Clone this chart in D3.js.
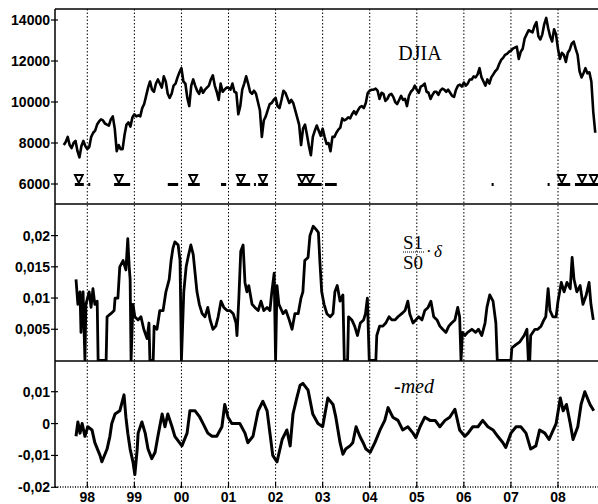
<!DOCTYPE html>
<html><head><meta charset="utf-8">
<script src="https://cdn.jsdelivr.net/npm/d3@7"></script>
<style>body{margin:0;background:#fff}</style>
</head><body><svg id="c" width="598" height="504"></svg>
<script>
const yearTicks = [1998,1999,2000,2001,2002,2003,2004,2005,2006,2007,2008];
const yearLabels = ["98","99","00","01","02","03","04","05","06","07","08"];
const djiaTicks = [6000,8000,10000,12000,14000];
const djiaTickLabels = ["6000","8000","10000","12000","14000"];
const ratioTicks = [0.005,0.01,0.015,0.02];
const ratioTickLabels = ["0,005","0,01","0,015","0,02"];
const medTicks = [-0.02,-0.01,0,0.01];
const medTickLabels = ["-0,02","-0,01","0","0,01"];

// DJIA, semi-monthly from mid 1997
const djiaStart = 1997.5, djiaStep = 1/24;
const djia = [
 7900,8050,8300,7900,7750,8000,8100,7600,7300,7850,8100,7850,
 7700,7800,8300,8500,8600,8900,9050,9150,9100,8950,8900,8850,9150,9300,8700,7600,7900,7700,7700,8400,8900,9000,8800,9250,
 9400,9300,9350,9300,9700,9900,10300,10700,11000,10600,10500,10900,11100,10900,10700,11250,11000,10400,10200,10400,10800,10900,11200,11450,
 11650,11000,10900,10200,9800,10800,11100,10800,10550,10400,10700,10450,10600,10700,10800,11100,11300,10800,10500,10100,10900,10500,10600,10700,
 10700,10600,10900,10500,10450,9400,9800,10600,10900,11250,10900,10500,10400,10550,10400,10000,9600,8300,9100,9300,9600,9900,9950,10100,
 10200,9800,9700,10100,10550,10450,10200,9950,10100,9950,9600,9250,8900,7900,8700,8900,8400,7850,7400,8300,8600,8850,8600,8350,
 8700,8300,7950,8000,7600,8300,8300,8500,8650,8750,9200,9100,9150,9250,9200,9400,9550,9400,9600,9750,9800,9700,9950,10450,
 10550,10600,10600,10650,10550,10150,10450,10400,10050,10150,10350,10400,10250,10000,9900,10100,10300,10100,10150,9800,10300,10500,10600,10800,
 10600,10450,10750,10800,10900,10500,10450,10150,10350,10500,10500,10350,10550,10650,10600,10500,10600,10450,10300,10250,10600,10800,10850,10750,
 10950,10800,10900,11100,11100,11250,11200,11350,11650,11200,11000,10800,11100,10900,11200,11350,11500,11600,11850,12050,12150,12300,12350,12450,
 12500,12600,12650,12700,12100,12450,12600,13100,13300,13500,13450,13400,13700,13900,13200,13050,13300,13800,14100,13600,13200,12950,13550,13300,
 12600,12100,12400,12300,11950,12400,12550,12850,12950,12600,12300,11500,11200,11400,11650,11400,11450,11000,9500,8500
];

const ratioYears = [1997.76,1997.80,1997.845,1997.866,1997.91,1997.95,1997.97,1998.04,1998.08,1998.12,1998.16,1998.21,1998.23,1998.40,1998.42,1998.50,1998.57,1998.59,1998.65,1998.69,1998.76,1998.82,1998.86,1998.89,1998.91,1998.93,1998.97,1999.01,1999.08,1999.14,1999.20,1999.27,1999.31,1999.33,1999.40,1999.42,1999.48,1999.54,1999.61,1999.67,1999.74,1999.78,1999.82,1999.86,1999.93,1999.97,2000.00,2000.05,2000.10,2000.14,2000.20,2000.25,2000.29,2000.33,2000.38,2000.44,2000.50,2000.56,2000.61,2000.67,2000.73,2000.78,2000.84,2000.90,2000.97,2001.03,2001.10,2001.16,2001.18,2001.22,2001.26,2001.31,2001.35,2001.39,2001.43,2001.50,2001.56,2001.63,2001.69,2001.75,2001.82,2001.88,2001.92,2001.97,2002.00,2002.03,2002.07,2002.16,2002.22,2002.29,2002.35,2002.41,2002.48,2002.54,2002.58,2002.62,2002.69,2002.73,2002.80,2002.86,2002.91,2002.94,2002.98,2003.03,2003.09,2003.16,2003.22,2003.26,2003.31,2003.37,2003.43,2003.46,2003.53,2003.55,2003.62,2003.68,2003.74,2003.80,2003.87,2003.91,2003.95,2003.99,2004.13,2004.15,2004.21,2004.28,2004.34,2004.41,2004.47,2004.54,2004.60,2004.68,2004.75,2004.81,2004.85,2004.92,2004.98,2005.04,2005.11,2005.17,2005.24,2005.30,2005.36,2005.43,2005.49,2005.55,2005.62,2005.68,2005.74,2005.81,2005.87,2005.91,2005.94,2005.97,2006.02,2006.08,2006.17,2006.25,2006.31,2006.38,2006.45,2006.49,2006.55,2006.62,2006.68,2006.71,2007.00,2007.02,2007.10,2007.19,2007.28,2007.34,2007.37,2007.40,2007.42,2007.51,2007.57,2007.64,2007.70,2007.74,2007.79,2007.83,2007.89,2007.96,2008.00,2008.07,2008.13,2008.19,2008.26,2008.30,2008.34,2008.40,2008.47,2008.53,2008.60,2008.66,2008.70,2008.75];
const ratioValues = [0.013,0.009,0.011,0.0045,0.011,0,0.009,0.011,0.0085,0.0115,0.009,0.0095,0,0,0.007,0.0075,0.008,0.01,0.01,0.015,0.016,0.0145,0.0195,0.015,0.013,0,0.009,0.007,0.0065,0.007,0.005,0.0035,0.006,0,0,0.0055,0.005,0.008,0.008,0.011,0.013,0.016,0.018,0.019,0.0185,0.016,0,0.011,0.015,0.0165,0.0185,0.017,0.014,0.011,0.009,0.0075,0.007,0.0085,0.0065,0.005,0.0055,0.007,0.0095,0.0085,0.008,0.008,0.0075,0.006,0.004,0.01,0.0175,0.0185,0.0125,0.011,0.012,0.009,0.0085,0.008,0.0095,0.008,0.0085,0.008,0.011,0.014,0,0.012,0.009,0.0075,0.008,0.0065,0.005,0.0075,0.0075,0.01,0.011,0.016,0.0165,0.02,0.0215,0.021,0.0205,0.016,0.011,0.009,0.0075,0.007,0.0075,0.011,0.012,0.0095,0.0105,0,0,0.007,0.0065,0.0055,0.004,0.006,0.0065,0.0075,0.01,0,0,0.004,0.0055,0.0055,0.006,0.007,0.0065,0.0065,0.007,0.0075,0.008,0.0095,0.0075,0.006,0.0065,0.007,0.0065,0.008,0.0085,0.0095,0.007,0.0065,0.0055,0.005,0.0045,0.0055,0.006,0.0065,0.0085,0.007,0,0.0045,0.004,0.0045,0.005,0.0045,0.005,0.004,0.006,0.0085,0.0105,0.0095,0.006,0,0,0.002,0.0025,0.003,0.004,0.005,0,0,0.004,0.005,0.005,0.0055,0.0065,0.007,0.0115,0.008,0.007,0.007,0.0095,0.0125,0.011,0.0125,0.0115,0.0165,0.013,0.011,0.012,0.009,0.0105,0.0125,0.009,0.0065];

const medYears = [1997.76,1997.80,1997.845,1997.89,1997.95,1998.01,1998.10,1998.16,1998.27,1998.31,1998.42,1998.48,1998.52,1998.59,1998.69,1998.78,1998.82,1998.86,1998.91,1998.97,1999.01,1999.06,1999.08,1999.16,1999.23,1999.29,1999.37,1999.44,1999.50,1999.59,1999.65,1999.71,1999.80,1999.86,2000.01,2000.12,2000.18,2000.29,2000.39,2000.46,2000.56,2000.65,2000.75,2000.86,2000.92,2000.99,2001.07,2001.14,2001.24,2001.35,2001.41,2001.52,2001.63,2001.73,2001.82,2001.88,2001.94,2002.03,2002.14,2002.24,2002.31,2002.37,2002.45,2002.52,2002.58,2002.69,2002.79,2002.90,2003.00,2003.11,2003.22,2003.28,2003.37,2003.43,2003.49,2003.58,2003.64,2003.71,2003.79,2003.86,2003.92,2004.01,2004.11,2004.22,2004.32,2004.39,2004.49,2004.60,2004.70,2004.81,2004.92,2004.98,2005.07,2005.17,2005.28,2005.39,2005.49,2005.60,2005.70,2005.81,2005.91,2006.02,2006.09,2006.19,2006.30,2006.40,2006.51,2006.62,2006.72,2006.83,2006.89,2007.00,2007.11,2007.21,2007.32,2007.42,2007.53,2007.61,2007.72,2007.81,2007.90,2007.96,2008.05,2008.11,2008.18,2008.26,2008.32,2008.42,2008.49,2008.57,2008.68,2008.76];
const medValues = [-0.004,0.0005,-0.003,0,-0.004,-0.001,-0.002,-0.006,-0.010,-0.012,-0.008,-0.004,0,0.003,0.004,0.009,0.002,-0.003,-0.008,-0.012,-0.016,-0.008,-0.003,0.0005,-0.003,-0.008,-0.011,-0.009,-0.004,0.003,-0.001,0.003,-0.001,-0.004,-0.007,-0.003,0.004,0.004,0.002,0,-0.003,-0.004,-0.004,-0.001,0.006,0.002,0,0,0,-0.003,-0.006,-0.004,0.004,0.007,0.004,-0.003,-0.010,-0.012,-0.005,-0.002,-0.007,0.003,0.008,0.012,0.0126,0.0105,0.003,0,-0.001,0.008,0.006,0.002,-0.006,-0.0096,-0.008,-0.007,-0.006,-0.001,-0.004,-0.006,-0.008,-0.009,-0.006,-0.002,0.001,0.005,0.002,0.001,-0.002,-0.001,-0.003,-0.0044,-0.001,0.002,0.001,0.001,-0.001,0.001,0.002,0.0045,-0.002,-0.004,-0.003,-0.001,-0.001,0.001,-0.001,-0.002,-0.004,-0.006,-0.0075,-0.003,-0.001,-0.001,-0.003,-0.008,-0.007,-0.002,-0.003,-0.005,-0.002,0,0.008,0.004,0.006,0,-0.005,-0.001,0.006,0.010,0.006,0.004];

const markerYears = [1997.82,1998.67,2000.25,2001.26,2001.73,2002.56,2002.73,2008.08,2008.51,2008.76];
const barStarts = [1998.02,1998.57,1999.71,2000.14,2000.84,2001.18,2001.54,2001.63,2002.48,2003.05,2006.59,2007.78,2008.00,2008.36];
const barEnds   = [1998.06,1998.91,1999.93,2000.39,2000.95,2001.46,2001.58,2001.84,2002.98,2003.30,2006.62,2007.81,2008.26,2008.85];

const svg = d3.select("#c");
const L = 55, R = 598;
const panels = {top:[9,204], mid:[204,361], bot:[361,487]};

const x = d3.scaleLinear().domain([1998,2008]).range([87.3,558]);
const yTop = d3.scaleLinear().domain([6000,14000]).range([184,20]);
const yMid = d3.scaleLinear().domain([0,0.02]).range([360.5,235.6]);
const yBot = d3.scaleLinear().domain([-0.02,0.01]).range([487.3,391.7]);

const defs = svg.append("defs");
Object.entries(panels).forEach(([k,[a,b]])=>{
  defs.append("clipPath").attr("id","clip-"+k).append("rect")
    .attr("x",L).attr("y",a).attr("width",R-L).attr("height",b-a);
});

// year gridlines
svg.append("g").selectAll("line").data(yearTicks).join("line")
  .attr("x1",d=>x(d)).attr("x2",d=>x(d)).attr("y1",9).attr("y2",487)
  .attr("stroke","#000").attr("stroke-width",1).attr("stroke-dasharray","1.5,2");

// series
const djiaData = djia.map((v,i)=>[djiaStart+i*djiaStep, v]);
svg.append("path").datum(djiaData).attr("clip-path","url(#clip-top)")
  .attr("d", d3.line().x(d=>x(d[0])).y(d=>yTop(d[1])))
  .attr("fill","none").attr("stroke","#000").attr("stroke-width",2.6).attr("stroke-linejoin","round");

const ratioData = ratioYears.map((t,i)=>[t, ratioValues[i]]);
svg.append("path").datum(ratioData).attr("clip-path","url(#clip-mid)")
  .attr("d", d3.line().x(d=>x(d[0])).y(d=>yMid(d[1])))
  .attr("fill","none").attr("stroke","#000").attr("stroke-width",2.8).attr("stroke-linejoin","round");

const medData = medYears.map((t,i)=>[t, medValues[i]]);
svg.append("path").datum(medData).attr("clip-path","url(#clip-bot)")
  .attr("d", d3.line().x(d=>x(d[0])).y(d=>yBot(d[1])))
  .attr("fill","none").attr("stroke","#000").attr("stroke-width",3).attr("stroke-linejoin","round");

// markers
const mY = yTop(6000);
svg.append("g").selectAll("rect").data(barStarts).join("rect")
  .attr("x",(d)=>x(d)).attr("width",(d,i)=>Math.max(2,x(barEnds[i])-x(d)))
  .attr("y",mY-1).attr("height",3).attr("fill","#000");
svg.append("g").selectAll("path").data(markerYears).join("path")
  .attr("d",d=>{const cx=x(d); return `M${cx-4},${mY-9}L${cx+4},${mY-9}L${cx},${mY-1}Z`;})
  .attr("fill","#fff").attr("stroke","#000").attr("stroke-width",1.8);
svg.append("g").selectAll("rect").data(markerYears).join("rect")
  .attr("x",d=>x(d)-4).attr("width",9).attr("y",mY-1).attr("height",3).attr("fill","#000");

// frame
const frame = svg.append("g").attr("stroke","#000");
frame.append("line").attr("x1",L).attr("x2",R).attr("y1",9).attr("y2",9).attr("stroke-width",1.5);
frame.append("line").attr("x1",L).attr("x2",R).attr("y1",204).attr("y2",204).attr("stroke-width",1.5);
frame.append("line").attr("x1",L).attr("x2",R).attr("y1",361).attr("y2",361).attr("stroke-width",1.5);
frame.append("line").attr("x1",L).attr("x2",L).attr("y1",9).attr("y2",487).attr("stroke-width",1.5);
frame.append("line").attr("x1",L).attr("x2",R).attr("y1",487).attr("y2",487).attr("stroke-width",1.5).attr("stroke-dasharray","1,1.5");

// year ticks on bottom
svg.append("g").selectAll("line").data(yearTicks).join("line")
  .attr("x1",d=>x(d)).attr("x2",d=>x(d)).attr("y1",482).attr("y2",488)
  .attr("stroke","#000").attr("stroke-width",1.2);

// y axes
function yAxis(scale, ticks, labels, minorStep, range){
  const g = svg.append("g");
  const minor = d3.range(Math.ceil((scale.invert(range[1]))/minorStep)*minorStep, scale.invert(range[0]), minorStep);
  g.selectAll("line.mn").data(minor).join("line")
    .attr("x1",L).attr("x2",L+2).attr("y1",d=>scale(d)).attr("y2",d=>scale(d))
    .attr("stroke","#000").attr("stroke-width",1);
  g.selectAll("line.mj").data(ticks).join("line")
    .attr("x1",L-4).attr("x2",L+3).attr("y1",d=>scale(d)).attr("y2",d=>scale(d))
    .attr("stroke","#000").attr("stroke-width",1.2);
  g.selectAll("text").data(ticks).join("text")
    .attr("x",L-5).attr("y",d=>scale(d)).attr("dy","0.36em")
    .attr("text-anchor","end")
    .attr("font-family","Liberation Sans, Arial, sans-serif").attr("font-weight","bold").attr("font-size",14)
    .text((d,i)=>labels[i]);
}
yAxis(yTop, djiaTicks, djiaTickLabels, 500, [204,9]);
yAxis(yMid, ratioTicks, ratioTickLabels, 0.00125, [361,204]);
yAxis(yBot, medTicks, medTickLabels, 0.0025, [487,361]);

// x labels
svg.append("g").selectAll("text").data(yearTicks).join("text")
  .attr("x",d=>x(d)).attr("y",502).attr("text-anchor","middle")
  .attr("font-family","Liberation Sans, Arial, sans-serif").attr("font-weight","bold").attr("font-size",14)
  .text((d,i)=>yearLabels[i]);

// panel labels
const serif = "Liberation Serif, Times New Roman, serif";
svg.append("text").attr("x",420).attr("y",60).attr("text-anchor","middle")
  .attr("font-family",serif).attr("font-size",20).text("DJIA");
svg.append("text").attr("x",413).attr("y",249).attr("text-anchor","middle")
  .attr("font-family",serif).attr("font-size",19).text("S1");
svg.append("line").attr("x1",403).attr("x2",424).attr("y1",252).attr("y2",252)
  .attr("stroke","#000").attr("stroke-width",1).attr("stroke-dasharray","1,1");
svg.append("text").attr("x",413).attr("y",269).attr("text-anchor","middle")
  .attr("font-family",serif).attr("font-size",19).text("S0");
svg.append("text").attr("x",426).attr("y",257)
  .attr("font-family",serif).attr("font-size",17).text("·");
svg.append("text").attr("x",434).attr("y",257)
  .attr("font-family",serif).attr("font-style","italic").attr("font-size",17).text("δ");
svg.append("text").attr("x",414).attr("y",393).attr("text-anchor","middle")
  .attr("font-family",serif).attr("font-style","italic").attr("font-size",20).text("-med");
</script></body></html>
